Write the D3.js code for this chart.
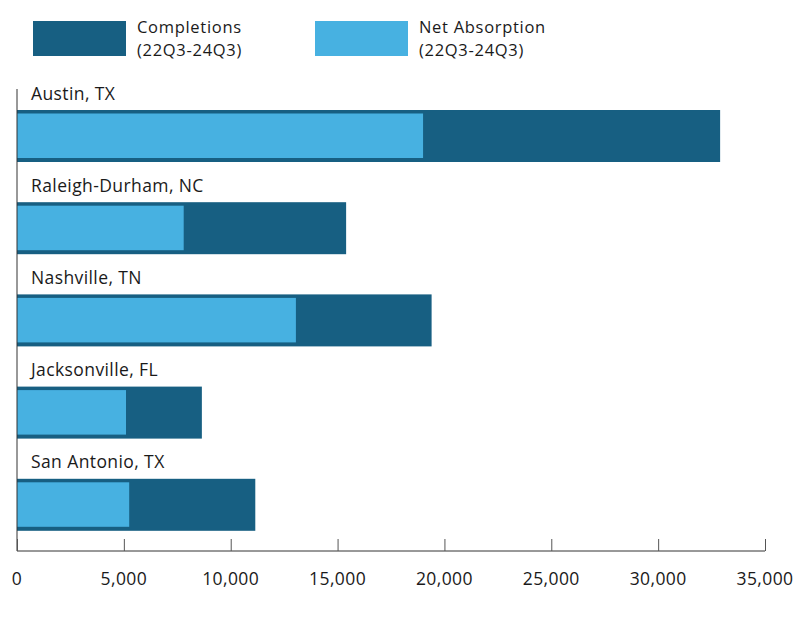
<!DOCTYPE html>
<html>
<head>
<meta charset="utf-8">
<script src="https://cdn.jsdelivr.net/npm/d3@7"></script>
<style>
  body { margin: 0; background: #fff; }
  text { font-family: "Open Sans", sans-serif; fill: #1a1a1a; letter-spacing: 0.4px; }
  .legend-label { letter-spacing: 0.7px; }
</style>
</head>
<body>
<div id="chart"></div>
<script>
// Data
const markets = ['Austin, TX', 'Raleigh-Durham, NC', 'Nashville, TN', 'Jacksonville, FL', 'San Antonio, TX'];
const completions = [32900, 15400, 19400, 8650, 11150];
const absorption = [19000, 7800, 13050, 5100, 5250];
const xTicks = [0, 5000, 10000, 15000, 20000, 25000, 30000, 35000];
const seriesNames = ['Completions', 'Net Absorption'];
const seriesPeriod = '(22Q3-24Q3)';

const darkBlue = '#175f82';
const lightBlue = '#47b1e1';
const fontSize = 17.5;

const svg = d3.select('#chart')
    .append('svg')
    .attr('width', 800)
    .attr('height', 620);

// Scales
const xScale = d3.scaleLinear()
    .domain([0, 35000])
    .range([17, 765]);

const yScale = d3.scaleBand()
    .domain(markets)
    .range([90, 551]);

// Legend
const legendX = [33, 315];
const legend = svg.selectAll('.legend')
    .data(seriesNames)
    .enter().append('g')
    .attr('transform', (d, i) => `translate(${legendX[i]}, 21)`);
legend.append('rect')
    .attr('width', 93)
    .attr('height', 35)
    .attr('fill', (d, i) => i === 0 ? darkBlue : lightBlue);
legend.append('text')
    .attr('class', 'legend-label')
    .attr('x', 104)
    .attr('y', 12)
    .attr('font-size', 16.5)
    .text(d => d);
legend.append('text')
    .attr('class', 'legend-label')
    .attr('x', 104)
    .attr('y', 34.5)
    .attr('font-size', 16.5)
    .text(seriesPeriod);

// Completion bars (outer)
svg.selectAll('.comp')
    .data(markets)
    .enter().append('rect')
    .attr('x', xScale(0))
    .attr('y', d => yScale(d) + 20)
    .attr('width', (d, i) => xScale(completions[i]) - xScale(0))
    .attr('height', 52)
    .attr('fill', darkBlue);

// Net absorption bars (inner)
svg.selectAll('.abs')
    .data(markets)
    .enter().append('rect')
    .attr('x', xScale(0))
    .attr('y', d => yScale(d) + 23.5)
    .attr('width', (d, i) => xScale(absorption[i]) - xScale(0))
    .attr('height', 44.5)
    .attr('fill', lightBlue);

// Category labels
svg.selectAll('.cat')
    .data(markets)
    .enter().append('text')
    .attr('x', 31)
    .attr('y', d => yScale(d) + 9.5)
    .attr('font-size', fontSize)
    .text(d => d);

// Left axis line
svg.append('line')
    .attr('x1', xScale(0)).attr('x2', xScale(0))
    .attr('y1', 89).attr('y2', 551)
    .attr('stroke', '#333').attr('stroke-width', 1);

// X axis
const xAxis = svg.append('g')
    .attr('transform', 'translate(0, 551)')
    .call(d3.axisTop(xScale).tickValues(xTicks).tickSize(12).tickFormat(''));
xAxis.select('.domain').attr('stroke', '#333').attr('d', `M${xScale(0)},0H${xScale(35000)}`);
xAxis.selectAll('.tick line').attr('stroke', '#555');

svg.selectAll('.xlabel')
    .data(xTicks)
    .enter().append('text')
    .attr('x', d => xScale(d))
    .attr('y', 585)
    .attr('text-anchor', 'middle')
    .attr('font-size', fontSize)
    .text(d => d3.format(',')(d));
</script>
</body>
</html>
